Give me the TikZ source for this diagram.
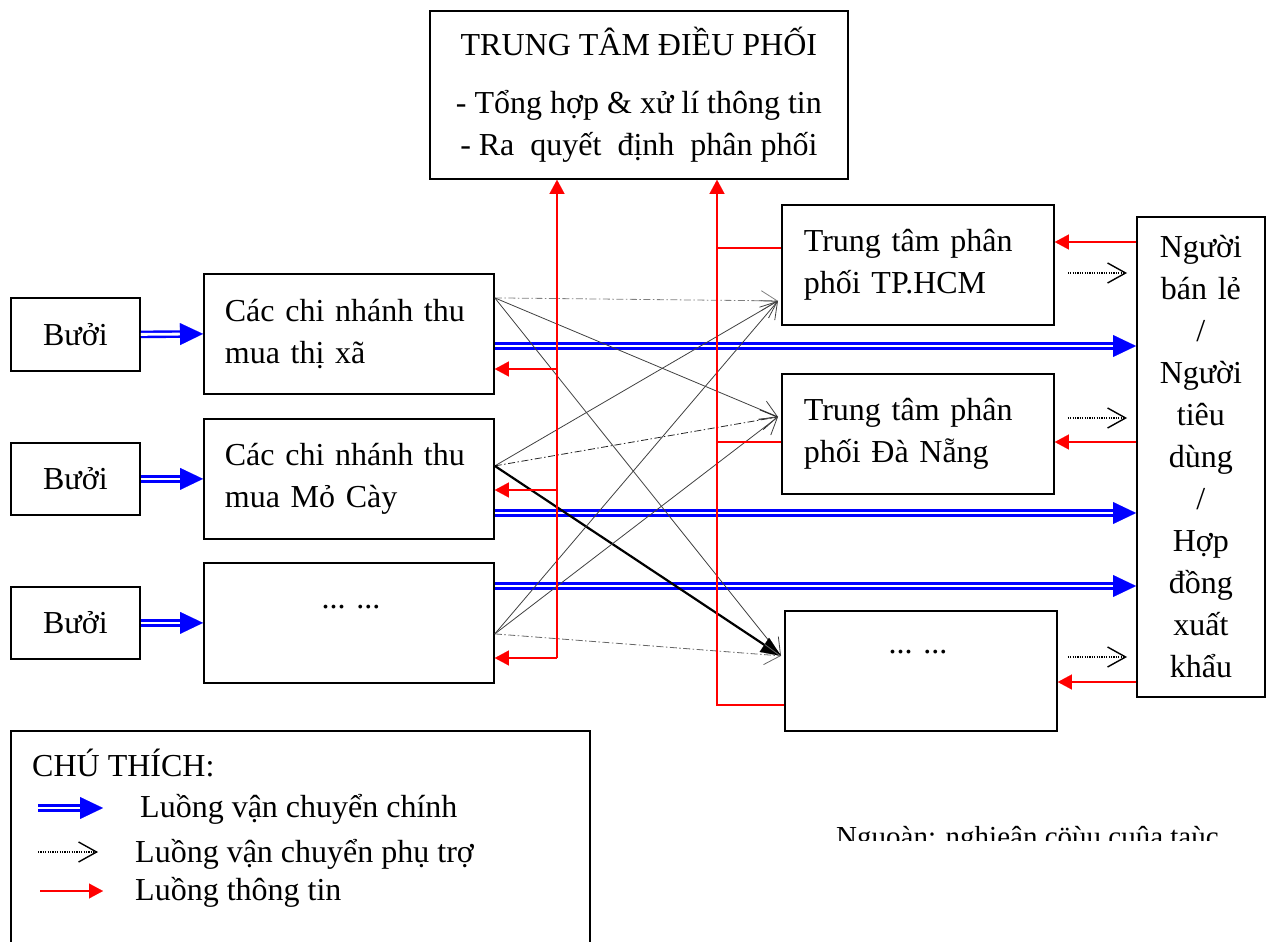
\documentclass[tikz,border=0pt]{standalone}
\usepackage{fontspec}
\setmainfont{Liberation Serif}
\usetikzlibrary{arrows.meta,calc}
\begin{document}
\begin{tikzpicture}[x=1pt,y=-1pt,
  font=\fontsize{32pt}{42pt}\selectfont,
  box/.style={draw, line width=1.8pt, inner sep=0pt, anchor=north west},
  txt/.style={inner sep=0pt},
  mainflow/.style={draw=blue, line width=2.4pt, double=white, double distance=2.8pt, -{Triangle[length=23pt,width=22pt,line width=0.1pt,fill=blue]}},
  auxflow/.style={draw=black, line width=1.2pt, dash pattern=on 1.2pt off 1.2pt, -{Straight Barb[length=18pt,width=20pt,line width=1.4pt]}},
  info/.style={draw=red, line width=1.8pt, -{Triangle[length=14pt,width=15pt,line width=0.1pt]}},
  infoline/.style={draw=red, line width=1.8pt},
  crossline/.style={draw=black!75, line width=0.8pt, -{Straight Barb[length=16pt,width=20pt,line width=0.8pt]}},
  crossdash/.style={crossline, dash pattern=on 7pt off 2.5pt on 1.5pt off 2.5pt},
  boldflow/.style={draw=black, line width=2.2pt, -{Triangle[length=20pt,width=17pt,line width=0.1pt]}},
]
\useasboundingbox (0,0) rectangle (1270,942);

% ---------- boxes ----------
\node[box, minimum width=418pt, minimum height=168pt, align=center] (top) at (429,10)
  {TRUNG TÂM ĐIỀU PHỐI\\[16pt]- Tổng hợp \& xử lí thông tin\\- Ra\ \ quyết\ \ định\ \ phân phối};

\node[box, minimum width=129pt, minimum height=73pt] (bu1) at (10,297) {Bưởi};
\node[box, minimum width=129pt, minimum height=72pt] (bu2) at (10,442) {Bưởi};
\node[box, minimum width=129pt, minimum height=72pt] (bu3) at (10,586) {Bưởi};

\node[box, minimum width=290pt, minimum height=120pt, text width=248pt, align=left] (cn1) at (203,273)
  {Các chi nhánh thu\\mua thị xã};
\node[box, minimum width=290pt, minimum height=120pt, text width=248pt, align=left] (cn2) at (203,418)
  {Các chi nhánh thu\\mua Mỏ Cày};
\node[box, minimum width=290pt, minimum height=120pt] (b3) at (203,562) {};
\node[txt, anchor=base] (b3t) at (351,608) {... ...};

\node[box, minimum width=272pt, minimum height=120pt, text width=228pt, align=left] (hcm) at (781,204)
  {Trung tâm phân\\phối TP.HCM};
\node[box, minimum width=272pt, minimum height=120pt, text width=228pt, align=left] (dn) at (781,373)
  {Trung tâm phân\\phối Đà Nẵng};
\node[box, minimum width=272pt, minimum height=120pt] (d3) at (784,610) {};
\node[txt, anchor=base] (d3t) at (918,653) {... ...};

\node[box, minimum width=128pt, minimum height=480pt, text width=120pt, align=center] (right) at (1136,216)
  {Người\\bán lẻ\\/\\Người\\tiêu\\dùng\\/\\Hợp\\đồng\\xuất\\khẩu};

% ---------- main flows ----------
\draw[mainflow] (bu1.east) -- (cn1.west);
\draw[mainflow] (bu2.east) -- (cn2.west);
\draw[mainflow] (bu3.east) -- (b3.west);

\coordinate (m1) at (0,346);
\coordinate (m2) at (0,513);
\coordinate (m3) at (0,586);
\draw[mainflow] (cn1.east |- m1) -- (right.west |- m1);
\draw[mainflow] (cn2.east |- m2) -- (right.west |- m2);
\draw[mainflow] (b3.east |- m3) -- (right.west |- m3);

% ---------- crossing flows ----------
\coordinate (s1) at ($(cn1.east)+(0,-36)$);
\coordinate (s2) at ($(cn2.east)+(0,-13)$);
\coordinate (s3) at ($(b3.east)+(0,11)$);
\coordinate (t1) at ($(hcm.west)+(-3,36)$);
\coordinate (t2) at ($(dn.west)+(-3,-17)$);
\coordinate (t3) at ($(d3.west)+(-3,-15)$);

\draw[crossdash, draw=black!50] (s1) -- (t1);
\draw[crossline] (s1) -- (t2);
\draw[crossline] (s1) -- (t3);
\draw[crossline] (s2) -- (t1);
\draw[crossdash, draw=black!85] (s2) -- (t2);
\draw[boldflow] (s2) -- (t3);
\draw[crossline] (s3) -- (t1);
\draw[crossline] (s3) -- (t2);
\draw[crossdash, draw=black!60] (s3) -- (t3);

% ---------- information flows (left) ----------
\coordinate (j1) at (557,369);
\coordinate (j2) at (557,490);
\coordinate (j3) at (557,658);
\draw[info] (j3) -- (top.south -| j3);
\draw[info] (j1) -- (cn1.east |- j1);
\draw[info] (j2) -- (cn2.east |- j2);
\draw[info] (j3) -- (b3.east |- j3);

% ---------- information flows (right) ----------
\coordinate (k1) at (717,248);
\coordinate (k2) at (717,442);
\coordinate (k3) at (717,705);
\draw[infoline] (hcm.west |- k1) -- (k1);
\draw[infoline] (dn.west |- k2) -- (k2);
\draw[info] (d3.west |- k3) -- (k3) -- (top.south -| k3);

\coordinate (r1) at (0,242);
\coordinate (r2) at (0,442);
\coordinate (r3) at (0,682);
\draw[info] (right.west |- r1) -- (hcm.east |- r1);
\draw[info] (right.west |- r2) -- (dn.east |- r2);
\draw[info] (right.west |- r3) -- (d3.east |- r3);

% ---------- auxiliary flows to consumers ----------
\coordinate (a1) at (0,273);
\coordinate (a2) at (0,418);
\coordinate (a3) at (0,657);
\draw[auxflow, shorten <=13pt, shorten >=9pt] (hcm.east |- a1) -- (right.west |- a1);
\draw[auxflow, shorten <=13pt, shorten >=9pt] (dn.east |- a2) -- (right.west |- a2);
\draw[auxflow, shorten <=10pt, shorten >=9pt] (d3.east |- a3) -- (right.west |- a3);

% ---------- legend ----------
\node[box, minimum width=579pt, minimum height=240pt] (legend) at (10,730) {};
\node[txt, anchor=base west] (lgt) at (32,776) {CHÚ THÍCH:};
\node[txt, anchor=base west] (lg1) at (140,817) {Luồng vận chuyển chính};
\node[txt, anchor=base west] (lg2) at (135,862) {Luồng vận chuyển phụ trợ};
\node[txt, anchor=base west] (lg3) at (135,900) {Luồng thông tin};
\coordinate (lm1) at (38,808);
\coordinate (lm2) at (103,808);
\coordinate (la1) at (38,852);
\coordinate (la2) at (98,852);
\coordinate (li1) at (40,891);
\coordinate (li2) at (103,891);
\draw[mainflow] (lm1) -- (lm2);
\draw[auxflow] (la1) -- (la2);
\draw[info] (li1) -- (li2);

% ---------- source note (clipped) ----------
\begin{scope}
\clip (800,800) rectangle (1270,840.5);
\node[txt, anchor=base west, font=\fontsize{29pt}{34pt}\selectfont] (src) at (836,846) {Nguoàn: nghieân cöùu cuûa taùc};
\end{scope}
\end{tikzpicture}
\end{document}
